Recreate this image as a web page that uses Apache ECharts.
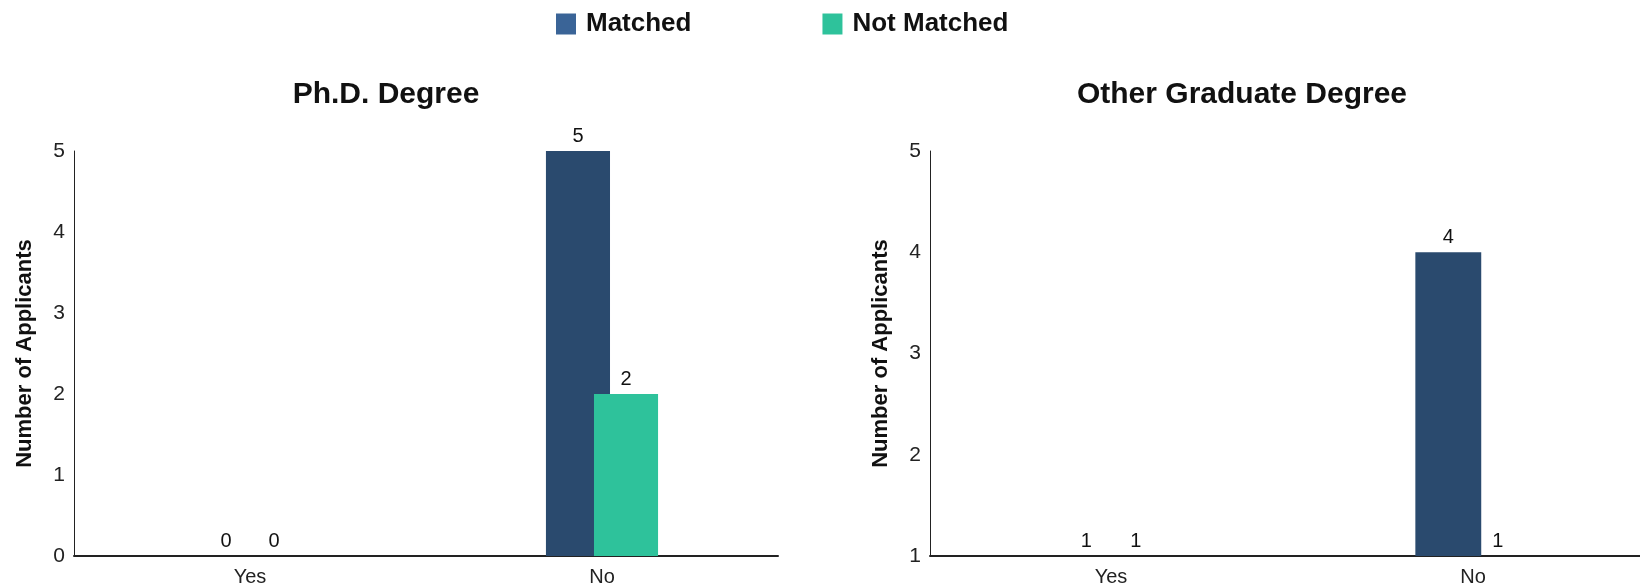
<!DOCTYPE html>
<html>
<head>
<meta charset="utf-8">
<script src="https://cdn.jsdelivr.net/npm/echarts@6/dist/echarts.min.js"></script>
<style>
html,body{margin:0;padding:0;background:#fff;}
#chart{width:1640px;height:588px;}
</style>
</head>
<body>
<div id="chart"></div>
<script>
const categories = ['Yes', 'No'];
const phdMatched = [0, 5];
const phdNotMatched = [0, 2];
const otherMatched = [1, 4];
const otherNotMatched = [1, 1];
const leftTicks = { min: 0, max: 5, interval: 1 };
const rightTicks = { min: 1, max: 5, interval: 1 };

const FONT = '"Liberation Sans", Arial, sans-serif';
const MATCHED_BAR = '#2a4a6e';
const MATCHED_LEGEND = '#3a6497';
const NOT_MATCHED = '#2ec29b';

const chart = echarts.init(document.getElementById('chart'), null, { renderer: 'canvas' });

function xAxis(gridIndex) {
  return {
    type: 'category', gridIndex, data: categories,
    axisLine: { lineStyle: { color: '#222', width: 2 } },
    axisTick: { show: false },
    axisLabel: { color: '#222', fontSize: 20, fontFamily: FONT, margin: 11 },
  };
}
function yAxis(gridIndex, t) {
  return {
    type: 'value', gridIndex, min: t.min, max: t.max, interval: t.interval,
    name: 'Number of Applicants', nameLocation: 'middle', nameGap: 38, nameRotate: 90,
    nameTextStyle: { color: '#111', fontSize: 22, fontWeight: 'bold', fontFamily: FONT },
    axisLine: { show: true, lineStyle: { color: '#222', width: 1 } },
    axisTick: { show: false },
    splitLine: { show: false },
    axisLabel: { color: '#222', fontSize: 21, fontFamily: FONT, margin: 9 },
  };
}
function bar(name, data, idx, color) {
  return {
    type: 'bar', name, data, xAxisIndex: idx, yAxisIndex: idx,
    barWidth: '18.2%', barGap: '-25%',
    itemStyle: { color },
    label: { show: true, position: 'top', distance: 5, color: '#111', fontSize: 20, fontFamily: FONT },
    emphasis: { disabled: true },
  };
}

chart.setOption({
  animation: false,
  backgroundColor: '#fff',
  textStyle: { fontFamily: FONT },
  title: [
    { text: 'Ph.D. Degree', left: 381, top: 75, textAlign: 'center',
      textStyle: { fontSize: 30, fontWeight: 'bold', color: '#111', fontFamily: FONT } },
    { text: 'Other Graduate Degree', left: 1237, top: 75, textAlign: 'center',
      textStyle: { fontSize: 30, fontWeight: 'bold', color: '#111', fontFamily: FONT } },
  ],
  legend: {
    left: 551, top: 6, itemWidth: 20, itemHeight: 21, itemGap: 131,
    icon: 'rect',
    textStyle: { fontSize: 26, fontWeight: 'bold', color: '#111', fontFamily: FONT, padding: [0, 0, 0, 5] },
    data: [
      { name: 'Matched', itemStyle: { color: MATCHED_LEGEND } },
      { name: 'Not Matched', itemStyle: { color: NOT_MATCHED } },
    ],
  },
  grid: [
    { left: 74, width: 704, top: 151, bottom: 32, outerBoundsMode: 'none', containLabel: false },
    { left: 930, width: 724, top: 151, bottom: 32, outerBoundsMode: 'none', containLabel: false },
  ],
  xAxis: [xAxis(0), xAxis(1)],
  yAxis: [yAxis(0, leftTicks), yAxis(1, rightTicks)],
  series: [
    bar('Matched', phdMatched, 0, MATCHED_BAR),
    bar('Not Matched', phdNotMatched, 0, NOT_MATCHED),
    bar('Matched', otherMatched, 1, MATCHED_BAR),
    bar('Not Matched', otherNotMatched, 1, NOT_MATCHED),
  ],
});
</script>
</body>
</html>
